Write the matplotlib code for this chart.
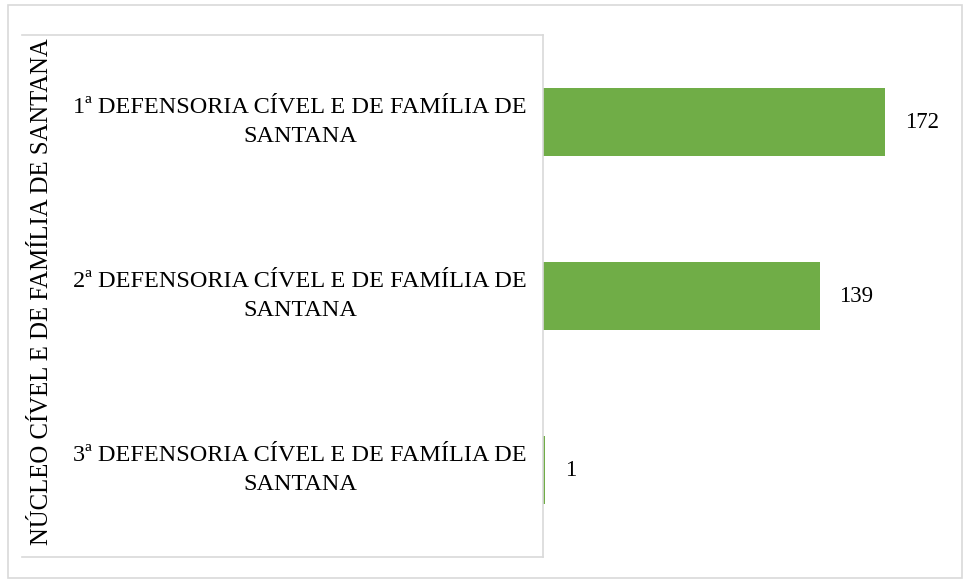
import matplotlib.pyplot as plt
from matplotlib.lines import Line2D
from matplotlib.patches import Rectangle

plt.rcParams['font.family'] = ['Liberation Serif', 'DejaVu Serif']

group_label = "NÚCLEO CÍVEL E DE FAMÍLIA DE SANTANA"
categories = ["1ª DEFENSORIA CÍVEL E DE FAMÍLIA DE\nSANTANA",
              "2ª DEFENSORIA CÍVEL E DE FAMÍLIA DE\nSANTANA",
              "3ª DEFENSORIA CÍVEL E DE FAMÍLIA DE\nSANTANA"]
values = [172, 139, 1]

W, H = 964, 582
fig = plt.figure(figsize=(W / 100, H / 100), dpi=100)

def fx(px):
    return px / W

def fy(py):
    return 1 - py / H

# plot area: x from 543 to 941 px (0..200), y from 35 to 557 px
ax = fig.add_axes([fx(543), fy(557), fx(941) - fx(543), fy(35) - fy(557)])
pos = list(range(len(values)))
ax.barh(pos, values, height=0.39, color='#70AD47')
ax.set_xlim(0, 200)
ax.set_ylim(len(values) - 0.5, -0.5)
ax.axis('off')

for p, v in zip(pos, values):
    ax.text(v + 10, p, str(v), ha='left', va='center', fontsize=16.5, color='black')

# category labels in the table area left of the bars
for p, c in zip(pos, categories):
    ax.text(-0.61, p, c, transform=ax.get_yaxis_transform(), ha='center', va='center',
            multialignment='center', fontsize=17.5, color='black', linespacing=1.5)

fig.text(fx(42), fy(292), group_label, rotation=90, ha='center', va='center',
         fontsize=17.8, color='black')

# table lines
lc = '#d9d9d9'
fig.add_artist(Line2D([fx(22), fx(543)], [fy(35), fy(35)], color=lc, lw=1.2))
fig.add_artist(Line2D([fx(22), fx(543)], [fy(557), fy(557)], color=lc, lw=1.2))
fig.add_artist(Line2D([fx(543), fx(543)], [fy(35), fy(557)], color=lc, lw=1.2))

# outer border
fig.add_artist(Rectangle((fx(8), fy(578)), fx(962) - fx(8), fy(5) - fy(578),
                         fill=False, edgecolor=lc, lw=1.2, transform=fig.transFigure))

fig.savefig('out.png', dpi=100, facecolor='white')
